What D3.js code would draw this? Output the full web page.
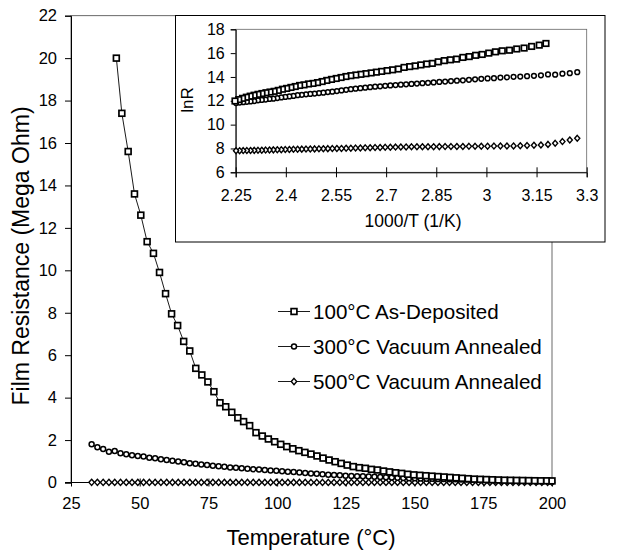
<!DOCTYPE html>
<html><head><meta charset="utf-8">
<script src="https://cdn.jsdelivr.net/npm/d3@7"></script>
<style>
html,body{margin:0;padding:0;background:#fff;}
svg{display:block;}
text{font-family:"Liberation Sans",Arial,Helvetica,sans-serif;fill:#000;}
</style></head>
<body>
<svg id="chart" width="617" height="554"></svg>
<script>
// ---- data (temperature in °C, resistance in Mega Ohm) ----
const seriesNames = ["100°C As-Deposited", "300°C Vacuum Annealed", "500°C Vacuum Annealed"];

const tempsAsDep = [41.5,43.5,45.8,48.1,50.4,52.7,55.0,57.2,59.4,61.6,
  63.8,66.0,68.2,70.4,72.6,74.8,77.0,79.2,81.3,83.5,
  85.7,87.8,90.0,92.3,94.6,96.8,99.1,101.3,103.5,105.7,
  107.9,110.1,112.3,114.5,116.7,118.9,121.1,123.3,125.5,127.7,
  129.9,132.1,134.3,136.5,138.7,140.9,143.1,145.3,147.5,149.7,
  151.9,154.1,156.3,158.5,160.7,162.9,165.1,167.3,169.5,171.7,
  173.9,176.1,178.3,180.5,182.7,184.9,187.1,189.3,191.5,193.7,
  195.9,198.1,200];
const resAsDep = [20.0,17.4,15.6,13.6,12.6,11.35,10.8,9.9,8.9,7.95,
  7.4,6.65,6.2,5.38,5.07,4.74,4.28,3.76,3.57,3.31,
  3.05,2.87,2.68,2.35,2.19,2.05,1.92,1.80,1.69,1.59,
  1.50,1.42,1.34,1.25,1.15,1.06,0.98,0.90,0.82,0.75,
  0.70,0.67,0.62,0.59,0.54,0.50,0.46,0.43,0.39,0.36,
  0.34,0.32,0.30,0.28,0.26,0.24,0.22,0.20,0.18,0.16,
  0.15,0.14,0.13,0.12,0.11,0.105,0.10,0.095,0.09,0.085,
  0.08,0.08,0.075];

const tempsAnneal = [32.5,34.6,36.7,38.8,40.9,43.0,45.1,47.2,49.3,51.4,
  53.5,55.6,57.7,59.8,61.9,64.0,66.1,68.2,70.3,72.4,
  74.5,76.6,78.7,80.8,82.9,85.0,87.1,89.2,91.3,93.4,
  95.5,97.6,99.7,101.8,103.9,106.0,108.1,110.2,112.3,114.4,
  116.5,118.6,120.7,122.8,124.9,127.0,129.1,131.2,133.3,135.4,
  137.5,139.6,141.7,143.8,145.9,148.0,150.1,152.2,154.3,156.4,
  158.5,160.6,162.7,164.8,166.9,169.0,171.1,173.2,175.3,177.4,
  179.5,181.6,183.7,185.8,187.9,190.0,192.1,194.2,196.3,198.4,200.0];
const res300 = [1.80,1.66,1.58,1.45,1.48,1.38,1.33,1.28,1.25,1.22,
  1.17,1.14,1.09,1.06,1.03,0.99,0.95,0.91,0.88,0.85,
  0.82,0.79,0.76,0.74,0.71,0.69,0.67,0.65,0.63,0.61,
  0.59,0.57,0.55,0.53,0.51,0.49,0.47,0.45,0.43,0.41,
  0.39,0.37,0.35,0.34,0.32,0.31,0.30,0.29,0.28,0.27,
  0.26,0.245,0.235,0.225,0.215,0.205,0.195,0.19,0.18,0.175,
  0.17,0.16,0.155,0.15,0.145,0.14,0.135,0.13,0.125,0.12,
  0.115,0.11,0.105,0.10,0.10,0.095,0.09,0.09,0.085,0.085,0.08];
const res500 = [0.0070,0.0061,0.0053,0.0046,0.0042,0.0040,0.0039,0.0038,0.00375,0.0037,
  0.00368,0.00366,0.00364,0.00362,0.0036,0.00358,0.00356,0.00354,0.00352,0.0035,
  0.00349,0.00348,0.00347,0.00346,0.00345,0.00344,0.00342,0.0034,0.00337,0.00334,
  0.00331,0.00328,0.00325,0.00322,0.00318,0.00315,0.00312,0.00309,0.00306,0.00303,
  0.0030,0.00298,0.00296,0.00294,0.00292,0.0029,0.00288,0.00286,0.00284,0.00282,
  0.0028,0.00278,0.00275,0.00272,0.0027,0.00268,0.00265,0.00263,0.0026,0.00258,
  0.00256,0.00254,0.00252,0.0025,0.00249,0.00248,0.00247,0.00246,0.00245,0.00244,
  0.00243,0.00242,0.00241,0.0024,0.00239,0.00238,0.00237,0.00236,0.00235,0.00234,0.00233];

const mainXTicks = [25,50,75,100,125,150,175,200];
const mainYTicks = [0,2,4,6,8,10,12,14,16,18,20,22];
const insetXTicks = [2.25,2.4,2.55,2.7,2.85,3,3.15,3.3];
const insetYTicks = [6,8,10,12,14,16,18];

// ---- build series ----
const series = [
  {name: seriesNames[0], shape: "square", pts: tempsAsDep.map((t,i)=>({t, r: resAsDep[i]}))},
  {name: seriesNames[1], shape: "circle", pts: tempsAnneal.map((t,i)=>({t, r: res300[i]}))},
  {name: seriesNames[2], shape: "diamond", pts: tempsAnneal.map((t,i)=>({t, r: res500[i]}))}
];

const svg = d3.select("#chart");
const FONT = '"Liberation Sans",Arial,sans-serif';

function marker(g, shape, x, y, s) {
  s = s || 1;
  if (shape === "square") {
    g.append("rect").attr("x", x-2.9*s).attr("y", y-2.9*s).attr("width", 5.8*s).attr("height", 5.8*s)
      .attr("fill","#fff").attr("stroke","#000").attr("stroke-width",1.7);
  } else if (shape === "circle") {
    g.append("circle").attr("cx", x).attr("cy", y).attr("r", 2.5*s)
      .attr("fill","#fff").attr("stroke","#000").attr("stroke-width",1.5);
  } else {
    g.append("path").attr("d", `M${x},${y-3.1*s}L${x+2.7*s},${y}L${x},${y+3.1*s}L${x-2.7*s},${y}Z`)
      .attr("fill","#fff").attr("stroke","#000").attr("stroke-width",1.4);
  }
}

// ---- main chart ----
const X = d3.scaleLinear().domain([25,200]).range([71,552]);
const Y = d3.scaleLinear().domain([0,22]).range([482.5,15.7]);

svg.append("rect").attr("x",71).attr("y",15.7).attr("width",552-71).attr("height",482.5-15.7)
  .attr("fill","none").attr("stroke","#444").attr("stroke-width",0.8);

const yAxis = d3.axisLeft(Y).tickValues(mainYTicks).tickSize(6).tickPadding(8).tickFormat(d3.format("d"));
const gy = svg.append("g").attr("transform","translate(71,0)").call(yAxis);
gy.select(".domain").attr("stroke","#000");
gy.selectAll("text").attr("font-size",16.5).style("font-family",FONT);

const xAxis = d3.axisBottom(X).tickValues(mainXTicks).tickSize(4).tickPadding(8).tickFormat(d3.format("d"));
const gx = svg.append("g").attr("transform","translate(0,482.5)").call(xAxis);
gx.select(".domain").remove();
gx.selectAll(".tick line").attr("y1",-4).attr("y2",4);
gx.selectAll("text").attr("font-size",16.5).attr("dy","0.85em").style("font-family",FONT);
svg.append("line").attr("x1",65).attr("x2",552).attr("y1",482.5).attr("y2",482.5).attr("stroke","#000");

svg.append("text").attr("transform","translate(29,256) rotate(-90)").attr("text-anchor","middle")
  .attr("font-size",23).text("Film Resistance (Mega Ohm)");
svg.append("text").attr("x",311).attr("y",545).attr("text-anchor","middle")
  .attr("font-size",22).text("Temperature (°C)");

const line = d3.line().x(d=>X(d.t)).y(d=>Y(d.r));
const gSeries = svg.append("g");
series.forEach(s => {
  gSeries.append("path").attr("d", line(s.pts)).attr("fill","none").attr("stroke","#000").attr("stroke-width",0.9);
});
series.slice().reverse().forEach(s => {
  const g = gSeries.append("g");
  s.pts.forEach(p => marker(g, s.shape, X(p.t), Y(p.r)));
});

// legend
const legY = [311.5, 346.5, 381.5];
series.forEach((s,i) => {
  const g = svg.append("g");
  g.append("line").attr("x1",278).attr("x2",310).attr("y1",legY[i]).attr("y2",legY[i]).attr("stroke","#000").attr("stroke-width",0.9);
  marker(g, s.shape, 294, legY[i]);
  g.append("text").attr("x",313).attr("y",legY[i]).attr("dy","0.36em").attr("font-size",20.6).text(s.name);
});

// ---- inset ----
svg.append("rect").attr("x",175.5).attr("y",15.5).attr("width",605-175.5).attr("height",242-15.5)
  .attr("fill","#fff").attr("stroke","#000").attr("stroke-width",1);

const IX = d3.scaleLinear().domain([2.25,3.3]).range([235.7,586.7]);
const IY = d3.scaleLinear().domain([6,18]).range([172.3,29.3]);

svg.append("rect").attr("x",235.7).attr("y",29.3).attr("width",586.7-235.7).attr("height",172.3-29.3)
  .attr("fill","none").attr("stroke","#666").attr("stroke-width",0.8);

const iy = svg.append("g").attr("transform","translate(235.7,0)")
  .call(d3.axisLeft(IY).tickValues(insetYTicks).tickSize(5).tickPadding(6).tickFormat(d3.format("d")));
iy.selectAll("text").attr("font-size",16).style("font-family",FONT);

const ix = svg.append("g").attr("transform","translate(0,172.3)")
  .call(d3.axisBottom(IX).tickValues(insetXTicks).tickSize(5).tickPadding(10).tickFormat(d=>String(d)));
ix.selectAll(".tick line").attr("y1",-5).attr("y2",5);
ix.selectAll("text").attr("font-size",16).attr("dy","0.85em").style("font-family",FONT);

svg.append("text").attr("transform","translate(193,100) rotate(-90)").attr("text-anchor","middle")
  .attr("font-size",17).text("lnR");
svg.append("text").attr("x",413).attr("y",227).attr("text-anchor","middle")
  .attr("font-size",17.5).text("1000/T (1/K)");

// inset points: 1000/T (K) vs ln(R in Ohm), same measurements
const gI = svg.append("g");
series.slice().reverse().forEach(s => {
  const g = gI.append("g");
  s.pts.forEach(p => {
    const inv = 1000/(p.t + 273.15);
    const ln = Math.log(p.r*1e6);
    if (inv >= 2.245 && inv <= 3.3) marker(g, s.shape, IX(inv), IY(ln), 0.95);
  });
});
</script>
</body></html>
